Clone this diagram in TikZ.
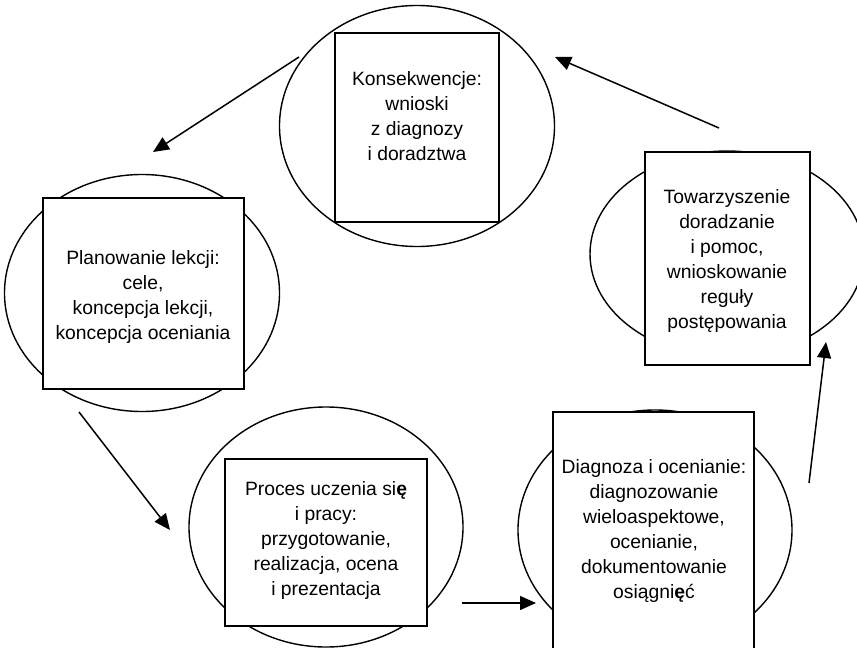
\documentclass[tikz,border=0pt]{standalone}
\usepackage{fontspec}
\setmainfont{Liberation Sans}
\usetikzlibrary{shapes.geometric,arrows.meta}
\tikzset{
  ell/.style={draw, ellipse, line width=1.4pt, inner sep=0pt},
  stagebox/.style={draw, rectangle, fill=white, line width=1.2pt, inner sep=0pt},
  stagetext/.style={align=center, inner sep=0pt, font=\fontsize{19.3}{25}\selectfont},
  flow/.style={line width=1.5pt, -{Triangle[length=16pt,width=14pt]}}
}
\begin{document}
\begin{tikzpicture}[x=1pt,y=-1pt]
\useasboundingbox (0,0) rectangle (857,648);
\clip (0,0) rectangle (857,648);
% ellipses
\node[ell, minimum width=275pt, minimum height=241pt] (e1) at (417,126) {};
\node[ell, minimum width=275pt, minimum height=237pt] (e2) at (142,293) {};
\node[ell, minimum width=274pt, minimum height=240pt] (e3) at (326,527) {};
\node[ell, minimum width=274pt, minimum height=240pt] (e4) at (655,530) {};
\node[ell, minimum width=274pt, minimum height=206pt] (e5) at (727,254) {};
% boxes
\node[stagebox, minimum width=164pt, minimum height=189pt] (b1) at (417,127.5) {};
\node[stagebox, minimum width=201pt, minimum height=191pt] (b2) at (143.5,293.5) {};
\node[stagebox, minimum width=202pt, minimum height=167pt] (b3) at (326,542.5) {};
\node[stagebox, minimum width=201pt, minimum height=260pt] (b4) at (653.5,542) {};
\node[stagebox, minimum width=165pt, minimum height=213pt] (b5) at (727.5,258.5) {};
% texts
\node[stagetext] (t1) at (417,116) {Konsekwencje:\\wnioski\\z diagnozy\\i doradztwa};
\node[stagetext] (t2) at (143,297) {Planowanie lekcji:\\cele,\\koncepcja lekcji,\\koncepcja oceniania};
\node[stagetext] (t3) at (326,541) {Proces uczenia si{\bfseries ę}\\i pracy:\\przygotowanie,\\realizacja, ocena\\i prezentacja};
\node[stagetext] (t4) at (654,531) {Diagnoza i ocenianie:\\diagnozowanie\\wieloaspektowe,\\ocenianie,\\dokumentowanie\\osiągni{\bfseries ę}ć};
\node[stagetext] (t5) at (727,261) {Towarzyszenie\\doradzanie\\i pomoc,\\wnioskowanie\\reguły\\postępowania};
% connector ends
\coordinate (a1s) at (299,57);  \coordinate (a1e) at (153,152);
\coordinate (a2s) at (79,412);  \coordinate (a2e) at (170,530);
\coordinate (a3s) at (462,603); \coordinate (a3e) at (536,603);
\coordinate (a4s) at (809,483); \coordinate (a4e) at (826,342);
\coordinate (a5s) at (719,128); \coordinate (a5e) at (555,57);
\draw[flow] (a1s) -- (a1e);
\draw[flow] (a2s) -- (a2e);
\draw[flow] (a3s) -- (a3e);
\draw[flow] (a4s) -- (a4e);
\draw[flow] (a5s) -- (a5e);
\end{tikzpicture}
\end{document}
